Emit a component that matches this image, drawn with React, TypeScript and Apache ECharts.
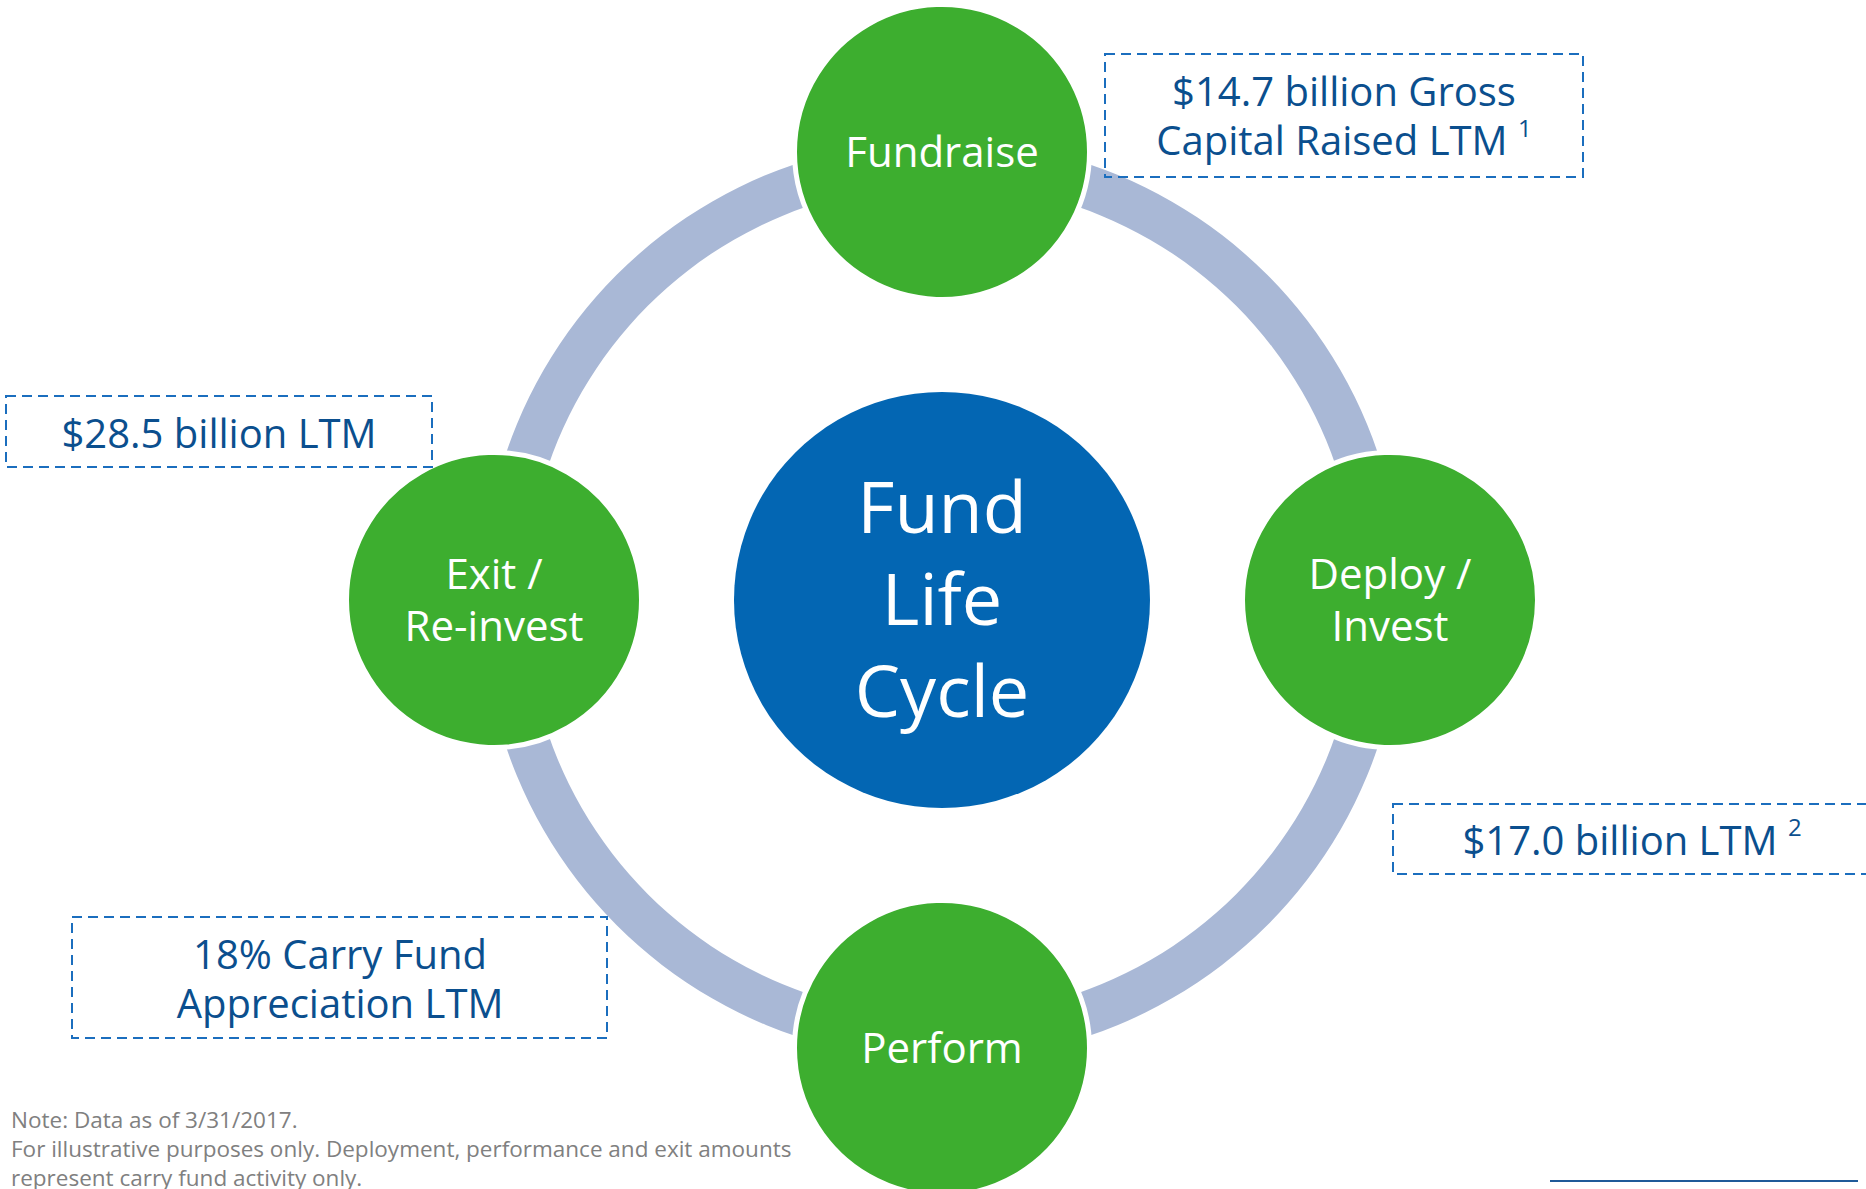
import React, { useEffect, useRef } from "react";
import * as echarts from "echarts";

// ---- data ----
const stageNames = ["Fundraise", "Deploy /\nInvest", "Perform", "Exit /\nRe-invest"];
const stageAngles = [0, 90, 180, 270];
const stageRadius = [1, 1, 1, 1];
const centerLabel = "Fund\nLife\nCycle";
const calloutTopRight = ["$14.7 billion Gross", "Capital Raised LTM {sup|1}"];
const calloutRight = ["$17.0 billion LTM {sup|2}"];
const calloutLeft = ["$28.5 billion LTM"];
const calloutBottomLeft = ["18% Carry Fund", "Appreciation LTM"];
const footnoteLines = [
  "Note: Data as of 3/31/2017.",
  "For illustrative purposes only. Deployment, performance and exit amounts",
  "represent carry fund activity only.",
];

const FONT = '"Open Sans", "Noto Sans", sans-serif';
const TEXT_BLUE = "#0B4F8E";
const DASH_BLUE = "#1B6EBE";
const GREEN = "#3DAE2F";
const CENTER_BLUE = "#0366B3";
const RING = "#A9B8D6";

function callout(
  lines: string[],
  box: { x: number; y: number; w: number; h: number },
  textX: number,
  textY: number
) {
  return [
    {
      type: "rect",
      shape: { x: box.x, y: box.y, width: box.w, height: box.h },
      style: { fill: "none", stroke: DASH_BLUE, lineWidth: 2, lineDash: [10, 6] },
      z: 10,
    },
    {
      type: "text",
      x: textX,
      y: textY,
      z: 11,
      style: {
        text: lines.join("\n"),
        fontFamily: FONT,
        fontSize: 40,
        lineHeight: 49,
        fill: TEXT_BLUE,
        align: "center",
        verticalAlign: "middle",
        rich: {
          sup: {
            fontFamily: FONT,
            fontSize: 24,
            lineHeight: 34,
            verticalAlign: "top",
            fill: TEXT_BLUE,
          },
        },
      },
    },
  ];
}

export default function App() {
  const ref = useRef<HTMLDivElement>(null);
  useEffect(() => {
    if (!ref.current) return;
    const chart = echarts.init(ref.current, undefined, { renderer: "svg" });
    const stageData = stageNames.map((n, i) => ({
      name: n,
      value: [stageRadius[i], stageAngles[i]],
    }));
    chart.setOption({
      animation: false,
      backgroundColor: "#ffffff",
      polar: { center: [942, 600], radius: 448 },
      angleAxis: {
        type: "value",
        min: 0,
        max: 360,
        startAngle: 90,
        clockwise: true,
        show: false,
      },
      radiusAxis: { type: "value", min: 0, max: 1, show: false },
      series: [
        {
          type: "pie",
          center: [942, 600],
          radius: [416, 460],
          silent: true,
          label: { show: false },
          labelLine: { show: false },
          itemStyle: { color: RING },
          data: [{ name: "cycle", value: 1 }],
          z: 1,
        },
        {
          type: "scatter",
          coordinateSystem: "polar",
          symbol: "circle",
          symbolSize: 416,
          silent: true,
          itemStyle: { color: CENTER_BLUE, opacity: 1 },
          label: {
            show: true,
            position: "inside",
            offset: [0, -3],
            formatter: (p: any) => p.name,
            color: "#ffffff",
            fontFamily: FONT,
            fontSize: 72,
            lineHeight: 92,
          },
          data: [{ name: centerLabel, value: [0, 0] }],
          z: 3,
        },
        {
          type: "scatter",
          coordinateSystem: "polar",
          symbol: "circle",
          symbolSize: 295,
          silent: true,
          itemStyle: { color: GREEN, borderColor: "#ffffff", borderWidth: 5, opacity: 1 },
          label: {
            show: true,
            position: "inside",
            offset: [0, -2],
            formatter: (p: any) => p.name,
            color: "#ffffff",
            fontFamily: FONT,
            fontSize: 42,
            lineHeight: 52,
          },
          data: stageData,
          z: 4,
        },
      ],
      graphic: [
        ...callout(calloutTopRight, { x: 1105, y: 54, w: 478, h: 123 }, 1344, 115),
        ...callout(calloutLeft, { x: 6, y: 396, w: 426, h: 71 }, 219, 432),
        ...callout(calloutRight, { x: 1393, y: 804, w: 500, h: 70 }, 1632, 839),
        ...callout(calloutBottomLeft, { x: 72, y: 917, w: 535, h: 121 }, 340, 978),
        {
          type: "text",
          x: 11,
          y: 1105,
          z: 12,
          style: {
            text: footnoteLines.join("\n"),
            fontFamily: FONT,
            fontSize: 22.5,
            lineHeight: 29,
            fill: "#808080",
            align: "left",
            verticalAlign: "top",
          },
        },
        {
          type: "line",
          shape: { x1: 1550, y1: 1181, x2: 1858, y2: 1181 },
          style: { stroke: "#1F5A99", lineWidth: 2 },
          z: 12,
        },
      ],
    });
    return () => chart.dispose();
  }, []);
  return (
    <div
      ref={ref}
      style={{ position: "absolute", left: 0, top: 0, width: 1866, height: 1189 }}
    />
  );
}
